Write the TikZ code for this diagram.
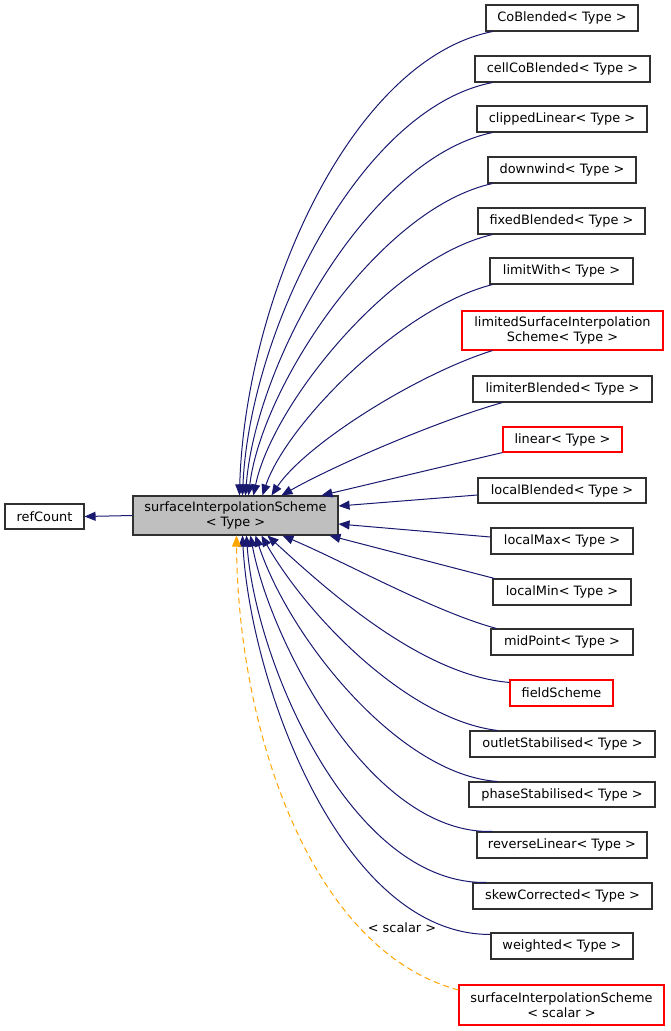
\documentclass[tikz,border=0pt]{standalone}
\usepackage{fontspec}
\setmainfont{DejaVu Sans}
\usetikzlibrary{arrows.meta}
\definecolor{mblue}{RGB}{25,25,112}
\definecolor{dorange}{RGB}{255,165,0}
\definecolor{boxgray}{RGB}{191,191,191}
\definecolor{boxline}{RGB}{48,48,48}
\begin{document}
\begin{tikzpicture}[x=1pt,y=-1pt,
  every node/.style={font=\fontsize{12.9}{15}\selectfont, inner sep=0pt, align=center},
  cls/.style={draw=boxline, line width=1.1pt, fill=white, minimum height=26pt},
  redcls/.style={cls, draw=red},
  edge/.style={draw=mblue, line width=1pt, -{Triangle[length=11pt,width=9pt]}},
  tedge/.style={draw=dorange, line width=1pt, dash pattern=on 6pt off 4pt, -{Triangle[length=11pt,width=9pt,fill=dorange]}}]
\useasboundingbox (0,0) rectangle (671,1031);
\node[cls, minimum width=79pt, minimum height=25pt] (ref) at (44.5,516.5) {refCount};
\node[cls, fill=boxgray, minimum width=205pt, minimum height=39pt] (base) at (235.5,515.5) {surfaceInterpolationScheme\\< Type >};
\node[cls, minimum width=152pt] (n1) at (562,18) {CoBlended< Type >};
\node[cls, minimum width=175pt] (n2) at (562.5,69) {cellCoBlended< Type >};
\node[cls, minimum width=170pt] (n3) at (562,119) {clippedLinear< Type >};
\node[cls, minimum width=148pt] (n4) at (562,170) {downwind< Type >};
\node[cls, minimum width=167pt] (n5) at (561.5,221) {fixedBlended< Type >};
\node[cls, minimum width=143pt] (n6) at (561.5,271) {limitWith< Type >};
\node[redcls, minimum width=201pt, minimum height=39pt] (n7) at (562.5,330.5) {limitedSurfaceInterpolation\\Scheme< Type >};
\node[cls, minimum width=179pt] (n8) at (562.5,389) {limiterBlended< Type >};
\node[redcls, minimum width=119pt, minimum height=25pt] (n9) at (562.5,439.5) {linear< Type >};
\node[cls, minimum width=168pt, minimum height=25pt] (n10) at (562,490.5) {localBlended< Type >};
\node[cls, minimum width=142pt] (n11) at (562,541) {localMax< Type >};
\node[cls, minimum width=138pt] (n12) at (562,592) {localMin< Type >};
\node[cls, minimum width=142pt] (n13) at (562,642) {midPoint< Type >};
\node[redcls, minimum width=103pt] (n14) at (561.5,693) {fieldScheme};
\node[cls, minimum width=185pt] (n15) at (562.5,744) {outletStabilised< Type >};
\node[cls, minimum width=186pt, minimum height=25pt] (n16) at (562,794.5) {phaseStabilised< Type >};
\node[cls, minimum width=170pt] (n17) at (562,845) {reverseLinear< Type >};
\node[cls, minimum width=179pt] (n18) at (562.5,896) {skewCorrected< Type >};
\node[cls, minimum width=142pt] (n19) at (562,946) {weighted< Type >};
\node[redcls, minimum width=205pt, minimum height=40pt] (n20) at (561.5,1005) {surfaceInterpolationScheme\\< scalar >};
% inheritance to refCount
\draw[edge] (base.west) -- (ref.east);
% upper children
\draw[edge] ([xshift=7pt]n1.south west) .. controls (350,60) and (245,300) .. ([xshift=107pt]base.north west);
\draw[edge] ([xshift=18pt]n2.south west) .. controls (360,108) and (250,330) .. ([xshift=110pt]base.north west);
\draw[edge] ([xshift=16pt]n3.south west) .. controls (370,158) and (256,360) .. ([xshift=113pt]base.north west);
\draw[edge] ([xshift=5pt]n4.south west) .. controls (380,208) and (262,385) .. ([xshift=116pt]base.north west);
\draw[edge] ([xshift=15pt]n5.south west) .. controls (390,258) and (272,405) .. ([xshift=121pt]base.north west);
\draw[edge] ([xshift=3pt]n6.south west) .. controls (400,308) and (286,425) .. ([xshift=130pt]base.north west);
\draw[edge] ([xshift=31pt]n7.south west) .. controls (415,375) and (305,445) .. ([xshift=139pt]base.north west);
\draw[edge] ([xshift=30pt]n8.south west) .. controls (440,420) and (335,465) .. ([xshift=149pt]base.north west);
\draw[edge] (n9.south west) -- ([xshift=189pt]base.north west);
\draw[edge] ([yshift=-4.5pt]n10.west) -- ([yshift=9.5pt]base.east);
\draw[edge] ([yshift=4pt]n11.west) -- ([yshift=-8.5pt]base.east);
% lower children
\draw[edge] ([xshift=2pt]n12.north west) -- ([xshift=197pt]base.south west);
\draw[edge] ([xshift=6pt]n13.north west) .. controls (435,612) and (345,562) .. ([xshift=150pt]base.south west);
\draw[edge] ([yshift=-3pt]n14.north west) .. controls (420,675) and (325,588) .. ([xshift=135pt]base.south west);
\draw[edge] ([xshift=28pt]n15.north west) .. controls (410,720) and (310,620) .. ([xshift=129pt]base.south west);
\draw[edge] ([xshift=29pt]n16.north west) .. controls (400,775) and (290,640) .. ([xshift=123pt]base.south west);
\draw[edge] ([xshift=16pt]n17.north west) .. controls (370,835) and (270,640) .. ([xshift=118pt]base.south west);
\draw[edge] ([xshift=14pt]n18.north west) .. controls (350,885) and (255,660) .. ([xshift=114pt]base.south west);
\draw[edge] ([yshift=-2pt]n19.north west) .. controls (340,935) and (250,680) .. ([xshift=110pt]base.south west);
% template instantiation
\draw[tedge] ([yshift=15pt]n20.west) .. controls (310,950) and (238,730) .. ([xshift=104pt]base.south west);
\node (lbl) at (402,928) {< scalar >};
\end{tikzpicture}
\end{document}
